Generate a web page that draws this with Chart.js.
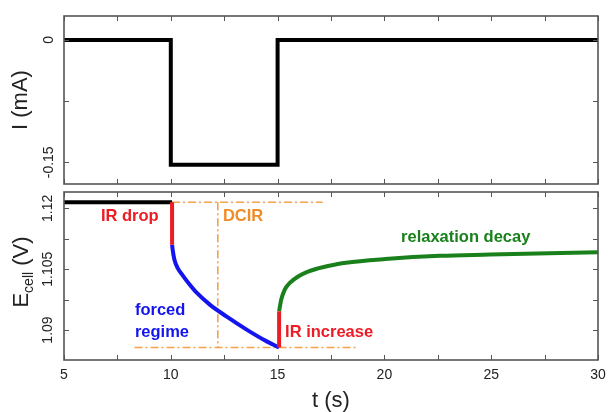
<!DOCTYPE html>
<html>
<head>
<meta charset="utf-8">
<script src="https://cdn.jsdelivr.net/npm/chart.js@4.4.0/dist/chart.umd.min.js"></script>
<style>
  body { margin: 0; background: #fff; }
  #wrap { position: relative; width: 609px; height: 412px; }
  .panel { position: absolute; left: 0; width: 609px; }
  #topBox { top: 0; height: 200px; }
  #botBox { top: 180px; height: 232px; }
</style>
</head>
<body>
<div id="wrap">
  <div class="panel" id="topBox"><canvas id="currentChart"></canvas></div>
  <div class="panel" id="botBox"><canvas id="voltageChart"></canvas></div>
</div>
<script>
// time axis
const tTicks = [5, 7.5, 10, 12.5, 15, 17.5, 20, 22.5, 25, 27.5, 30]
const tTickLabels = ['5', '', '10', '', '15', '', '20', '', '25', '', '30']

// current pulse (mA)
const tCurrent = [5, 10, 10, 15, 15, 30]
const current = [0, 0, -0.153, -0.153, 0, 0]
const iTicks = [0, -0.075, -0.15]
const iTickLabels = ['0', '', '-0.15']

// cell voltage (V), split by region
const tRest = [5, 10.06]
const eRest = [1.1215, 1.1215]
const tDrop = [10.06, 10.06]
const eDrop = [1.1215, 1.1110]
const tForced = [10.06, 10.09, 10.17, 10.33, 10.58, 10.9, 11.21, 11.84, 12.62, 13.55, 14.49, 15.07]
const eForced = [1.1110, 1.1097, 1.1073, 1.1052, 1.1033, 1.1011, 1.0992, 1.0962, 1.0933, 1.0901, 1.0872, 1.0857]
const tIncrease = [15.07, 15.07]
const eIncrease = [1.0857, 1.0946]
const tRelax = [15.07, 15.10, 15.17, 15.33, 15.57, 15.96, 16.42, 16.89, 17.36, 18.2, 20.04, 22.6, 24.94, 30]
const eRelax = [1.0946, 1.0955, 1.0975, 1.0999, 1.1016, 1.1032, 1.1044, 1.1052, 1.1058, 1.1066, 1.1075, 1.1083, 1.1086, 1.1092]

// DCIR guide lines
const tGuideTop = [10.06, 17.1]
const eGuideTop = [1.1215, 1.1215]
const tGuideBot = [8.3, 18.7]
const eGuideBot = [1.0857, 1.0857]
const tGuideV = [12.2, 12.2]
const eGuideV = [1.1215, 1.0857]

const eTicks = [1.12, 1.1125, 1.105, 1.0975, 1.09]
const eTickLabels = ['1.12', '', '1.105', '', '1.09']

const RED = '#ec1c24'
const BLUE = '#1414ee'
const GREEN = '#19801c'
const ORANGE = '#f5a04a'
const FONT = "'Liberation Sans', Arial, sans-serif"

// text labels on the voltage panel (left edge, vertical centre in data units)
const notes = [
    { text: 'IR drop', t: 6.73, e: 1.1181, color: RED },
    { text: 'DCIR', t: 12.44, e: 1.1181, color: '#f08c28' },
    { text: 'forced', t: 8.32, e: 1.0947, color: BLUE },
    { text: 'regime', t: 8.32, e: 1.0893, color: BLUE },
    { text: 'IR increase', t: 15.35, e: 1.0893, color: RED },
    { text: 'relaxation decay', t: 20.78, e: 1.1129, color: GREEN },
]

function pts(xs, ys) {
    return xs.map((x, i) => ({ x: x, y: ys[i] }))
}

function line(data, color, width, order, extra) {
    return Object.assign({
        data: data,
        borderColor: color,
        borderWidth: width,
        pointRadius: 0,
        fill: false,
        order: order,
        borderCapStyle: 'butt',
        borderJoinStyle: 'miter'
    }, extra || {})
}

// box around the plot area with inward tick marks on all four sides
const frameTicks = {
    id: 'frameTicks',
    afterDraw(chart) {
        const { ctx, chartArea: a, scales } = chart
        ctx.save()
        ctx.strokeStyle = '#555'
        ctx.lineWidth = 1
        ctx.beginPath()
        scales.x.ticks.forEach(tk => {
            const px = Math.round(scales.x.getPixelForValue(tk.value)) + 0.5
            ctx.moveTo(px, a.top); ctx.lineTo(px, a.top + 5)
            ctx.moveTo(px, a.bottom); ctx.lineTo(px, a.bottom - 5)
        })
        scales.y.ticks.forEach(tk => {
            const py = Math.round(scales.y.getPixelForValue(tk.value)) + 0.5
            ctx.moveTo(a.left, py); ctx.lineTo(a.left + 5, py)
            ctx.moveTo(a.right, py); ctx.lineTo(a.right - 5, py)
        })
        ctx.stroke()
        ctx.lineWidth = 1.6
        ctx.strokeRect(a.left, a.top, a.right - a.left, a.bottom - a.top)
        ctx.restore()
    }
}

const voltageText = {
    id: 'voltageText',
    afterDraw(chart) {
        const { ctx, scales } = chart
        ctx.save()
        ctx.font = 'bold 16.5px ' + FONT
        ctx.textAlign = 'left'
        ctx.textBaseline = 'middle'
        notes.forEach(n => {
            ctx.fillStyle = n.color
            ctx.fillText(n.text, scales.x.getPixelForValue(n.t), scales.y.getPixelForValue(n.e))
        })
        // y title: E with subscript "cell"
        const cy = (chart.chartArea.top + chart.chartArea.bottom) / 2 - 4
        ctx.translate(22, cy)
        ctx.rotate(-Math.PI / 2)
        ctx.fillStyle = '#222'
        ctx.font = '22px ' + FONT
        const wE = ctx.measureText('E').width
        const wV = ctx.measureText(' (V)').width
        ctx.font = '14px ' + FONT
        const wC = ctx.measureText('cell').width
        let x = -(wE + wC + wV) / 2
        ctx.font = '22px ' + FONT
        ctx.fillText('E', x, 0)
        x += wE
        ctx.font = '14px ' + FONT
        ctx.fillText('cell', x, 7)
        x += wC
        ctx.font = '22px ' + FONT
        ctx.fillText(' (V)', x, 0)
        ctx.restore()
    }
}

function timeAxis(showLabels, height) {
    return {
        type: 'linear',
        min: 5,
        max: 30,
        afterBuildTicks: s => { s.ticks = tTicks.map(v => ({ value: v })) },
        afterFit: s => { s.height = height },
        grid: { display: false, drawTicks: true, tickLength: 7 },
        border: { display: false },
        ticks: {
            display: showLabels,
            autoSkip: false,
            maxRotation: 0,
            padding: 0,
            color: '#222',
            font: { family: FONT, size: 14 },
            callback: (v, i) => tTickLabels[i]
        },
        title: {
            display: showLabels,
            text: 't (s)',
            color: '#222',
            font: { family: FONT, size: 22, lineHeight: 1 },
            padding: { top: 0, bottom: 0 }
        }
    }
}

function valueAxis(min, max, ticks, labels, title) {
    return {
        min: min,
        max: max,
        afterBuildTicks: s => { s.ticks = ticks.map(v => ({ value: v })) },
        afterFit: s => { s.width = 64 },
        grid: { display: false, drawTicks: false },
        border: { display: false },
        ticks: {
            autoSkip: false,
            minRotation: 90,
            maxRotation: 90,
            crossAlign: 'center',
            padding: -1.5,
            color: '#222',
            font: { family: FONT, size: 14 },
            callback: (v, i) => labels[i]
        },
        title: {
            display: title !== '',
            text: title,
            color: '#222',
            font: { family: FONT, size: 22, lineHeight: 1 },
            padding: { top: 10, bottom: 0 }
        }
    }
}

const common = {
    responsive: true,
    maintainAspectRatio: false,
    animation: false,
    events: [],
    plugins: { legend: { display: false }, tooltip: { enabled: false } }
}

new Chart(document.getElementById('currentChart'), {
    type: 'line',
    data: {
        datasets: [line(pts(tCurrent, current), '#000', 4, 0)]
    },
    options: Object.assign({}, common, {
        layout: { padding: { top: 16, right: 11, bottom: 0, left: 0 } },
        scales: {
            x: timeAxis(false, 16),
            y: valueAxis(-0.1766, 0.0294, iTicks, iTickLabels, 'I (mA)')
        }
    }),
    plugins: [frameTicks]
})

const dash = { borderDash: [8, 3, 2, 3] }
const smooth = { cubicInterpolationMode: 'monotone' }

new Chart(document.getElementById('voltageChart'), {
    type: 'line',
    data: {
        datasets: [
            line(pts(tGuideTop, eGuideTop), ORANGE, 1.6, 5, dash),
            line(pts(tGuideBot, eGuideBot), ORANGE, 1.6, 5, dash),
            line(pts(tGuideV, eGuideV), ORANGE, 1.6, 5, dash),
            line(pts(tRest, eRest), '#000', 4, 2),
            line(pts(tForced, eForced), BLUE, 4, 2, smooth),
            line(pts(tRelax, eRelax), GREEN, 4, 2, smooth),
            line(pts(tDrop, eDrop), RED, 4, 1),
            line(pts(tIncrease, eIncrease), RED, 4, 1)
        ]
    },
    options: Object.assign({}, common, {
        layout: { padding: { top: 12, right: 11, bottom: 0, left: 0 } },
        scales: {
            x: timeAxis(true, 52),
            y: valueAxis(1.08261, 1.12402, eTicks, eTickLabels, '')
        }
    }),
    plugins: [frameTicks, voltageText]
})
</script>
</body>
</html>
